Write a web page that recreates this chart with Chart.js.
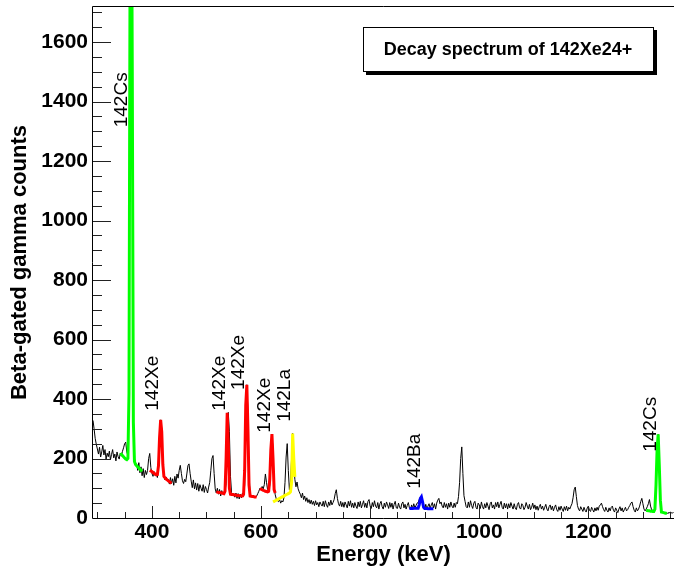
<!DOCTYPE html>
<html>
<head>
    <title>Decay spectrum of 142Xe24+</title>
    <style>
        html, body { margin: 0; padding: 0; background: #fff; overflow: hidden; }
        canvas { display: block; }
    </style>
</head>
<body>
    <canvas id="spectrum" width="674" height="569"></canvas>

    <script src="https://cdn.jsdelivr.net/npm/chart.js"></script>
    <script>
        // beta-gated gamma spectrum, 2 keV bins, first bin at 292 keV
        const binStart = 292;
        const binWidth = 2;
        const counts = [
            328, 300, 268, 248, 232, 215, 238, 205, 222, 244,   // 292
            212, 230, 198, 218, 206, 225, 196, 214, 230, 202,   // 312
            215, 192, 222, 206, 198, 218, 208, 224, 236, 250,   // 332
            255, 222, 210, 450, 1850, 2300, 1450, 340, 200, 185, // 352
            180, 160, 186, 152, 172, 142, 166, 136, 160, 146,   // 372
            160, 200, 217, 170, 150, 140, 156, 142, 150, 136,   // 392
            165, 260, 330, 300, 190, 140, 128, 138, 126, 130,   // 412
            114, 136, 116, 132, 110, 140, 118, 148, 134, 160,   // 432
            177, 150, 125, 116, 130, 122, 148, 176, 182, 150,   // 452
            124, 102, 128, 98, 118, 94, 116, 90, 112, 100,      // 472
            90, 112, 86, 106, 96, 84, 104, 120, 160, 200,       // 492
            210, 150, 98, 84, 100, 80, 96, 74, 92, 80,          // 512
            78, 90, 115, 250, 355, 290, 140, 85, 76, 82,        // 532
            70, 84, 66, 82, 64, 80, 68, 84, 72, 110,            // 552
            330, 448, 360, 150, 80, 72, 76, 68, 74, 70,         // 572
            74, 82, 90, 100, 94, 106, 98, 112, 148, 120,        // 592
            96, 88, 110, 200, 282, 230, 110, 78, 64, 58,        // 612
            55, 62, 50, 58, 54, 68, 120, 205, 250, 160,         // 632
            95, 120, 200, 284, 190, 130, 105, 121, 98, 88,      // 652
            80, 68, 84, 62, 74, 56, 68, 52, 62, 48,             // 672
            60, 46, 56, 42, 58, 44, 52, 38, 54, 46,             // 692
            40, 56, 38, 58, 44, 36, 54, 42, 60, 44,             // 712
            52, 62, 82, 95, 66, 48, 40, 56, 38, 52,             // 732
            36, 54, 44, 34, 56, 40, 58, 36, 50, 34,             // 752
            52, 40, 32, 54, 38, 56, 34, 46, 58, 36,             // 772
            50, 34, 56, 62, 40, 32, 52, 38, 58, 40,             // 792
            34, 52, 30, 48, 56, 38, 30, 50, 36, 54,             // 812
            44, 32, 52, 36, 50, 30, 46, 56, 34, 32,             // 832
            50, 36, 30, 48, 54, 34, 46, 30, 42, 52,             // 852
            34, 28, 44, 32, 48, 34, 42, 50, 52, 62,             // 872
            70, 66, 52, 38, 30, 46, 30, 40, 48, 32,             // 892
            44, 52, 34, 48, 30, 50, 60, 66, 48, 54,             // 912
            40, 34, 52, 36, 48, 30, 50, 36, 54, 40,             // 932
            34, 50, 36, 52, 48, 72, 120, 200, 239, 150,         // 952
            75, 56, 38, 34, 54, 36, 58, 42, 32, 50,             // 972
            56, 36, 30, 50, 44, 32, 54, 38, 30, 48,             // 992
            34, 52, 40, 28, 48, 54, 34, 44, 30, 52,             // 1012
            38, 54, 34, 46, 56, 36, 30, 50, 34, 48,             // 1032
            30, 48, 34, 52, 40, 30, 48, 34, 28, 46,             // 1052
            52, 34, 30, 48, 42, 28, 36, 52, 40, 30,             // 1072
            46, 28, 36, 50, 32, 44, 28, 40, 26, 38,             // 1092
            46, 30, 40, 26, 36, 46, 30, 24, 38, 44,             // 1112
            28, 40, 24, 36, 44, 28, 22, 38, 26, 40,             // 1132
            30, 22, 38, 26, 40, 24, 36, 30, 40, 48,             // 1152
            68, 95, 104, 72, 42, 30, 24, 38, 30, 22,            // 1172
            36, 26, 20, 34, 40, 26, 22, 36, 28, 20,             // 1192
            34, 24, 36, 26, 40, 44, 50, 38, 28, 22,             // 1212
            36, 26, 20, 34, 24, 36, 40, 26, 20, 34,             // 1232
            26, 18, 30, 38, 24, 34, 20, 28, 36, 24,             // 1252
            28, 36, 42, 50, 54, 38, 26, 20, 34, 24,             // 1272
            30, 40, 55, 66, 48, 30, 24, 30, 38, 48,             // 1292
            62, 40, 28, 26, 24, 30, 80, 200, 281, 170,          // 1312
            60, 22, 18, 20, 16, 18, 14, 18, 16, 20,             // 1332
            18, 16, 20                                          // 1352
        ];

        // peak fits (gauss + linear background), same 2 keV grid
        const fitStart = { cs362: 342, xe416: 396, xe538: 518, xe620: 598, la658: 622, ba894: 872, cs1328: 1306 };
        const fitCs362 = [218, 214, 210, 206, 202, 198, 196, 200, 420, 1900, 2400, 1500, 320, 190, 180, 176, 172, 168, 164, 160, 157];
        const fitXe416 = [160, 158, 156, 153, 150, 148, 145, 146, 175, 270, 330, 290, 180, 140, 135, 131, 128, 125, 122, 119, 117];
        const fitXe538 = [88, 87, 86, 86, 85, 84, 83, 82, 90, 200, 354, 250, 100, 80, 79, 79, 78, 77, 77, 76,
                          76, 75, 75, 74, 74, 80, 160, 380, 448, 300, 110, 74, 73, 72, 72, 71, 71, 70];
        const fitXe620 = [99, 97, 95, 93, 92, 90, 89, 88, 90, 130, 230, 282, 200, 95, 84];
        const fitLa658 = [54, 56, 58, 60, 62, 64, 66, 68, 70, 72, 74, 76, 78, 80, 82, 84, 88, 120, 284, 200, 138];
        const fitBa894 = [32, 32, 32, 32, 33, 33, 33, 33, 33, 45, 65, 71, 55, 36, 32, 32, 32, 31, 31, 31, 31, 31, 31];
        const fitCs1328 = [26, 25, 24, 24, 23, 23, 22, 22, 30, 110, 230, 281, 180, 60, 20, 19, 18, 17, 16, 15];

        // isotope labels (energy, counts where the label sits)
        const peakLabels = ['142Cs', '142Xe', '142Xe', '142Xe', '142Xe', '142La', '142Ba', '142Cs'];
        const labelEnergy = [344, 402, 525, 560, 606, 644, 881, 1315];
        const labelCounts = [1406, 453, 453, 523, 379, 412, 191, 315];

        const xTicks = [400, 600, 800, 1000, 1200];
        const yTicks = [0, 200, 400, 600, 800, 1000, 1200, 1400, 1600];

        const FONT = '"Liberation Sans", Arial, Helvetica, sans-serif';
        Chart.defaults.font.family = FONT;
        Chart.defaults.color = '#000';

        function toPoints(start, values) {
            return values.map((v, i) => ({ x: start + i * binWidth, y: v }));
        }

        function fitDataset(start, values, color) {
            return {
                data: toPoints(start, values),
                borderColor: color,
                borderWidth: 3,
                pointRadius: 0,
                tension: 0,
                fill: false,
                clip: 0,
                order: 1
            };
        }

        // inner ticks + frame, ROOT style
        const frameTicks = {
            id: 'frameTicks',
            afterDatasetsDraw(chart) {
                const { ctx, chartArea: a, scales: { x, y } } = chart;
                ctx.save();
                ctx.strokeStyle = '#222';
                ctx.lineWidth = 1;
                ctx.beginPath();
                for (let v = 0; v <= y.max; v += 50) {
                    const py = Math.round(y.getPixelForValue(v)) + 0.5;
                    const len = v % 200 === 0 ? 18 : 9;
                    ctx.moveTo(a.left, py);
                    ctx.lineTo(a.left + len, py);
                }
                for (let v = 300; v <= x.max; v += 50) {
                    const px = Math.round(x.getPixelForValue(v)) + 0.5;
                    const len = v % 200 === 0 ? 12 : 6;
                    ctx.moveTo(px, a.bottom);
                    ctx.lineTo(px, a.bottom - len);
                }
                ctx.stroke();

                ctx.strokeStyle = '#000';
                ctx.beginPath();
                ctx.moveTo(a.right, a.top - 0.5);
                ctx.lineTo(a.left - 0.5, a.top - 0.5);
                ctx.lineTo(a.left - 0.5, a.bottom + 0.5);
                ctx.lineTo(a.right, a.bottom + 0.5);
                ctx.stroke();
                ctx.restore();
            },
            afterDraw(chart) {
                const { ctx, scales: { x, y } } = chart;
                ctx.save();
                ctx.fillStyle = '#000';
                ctx.font = '19px ' + FONT;
                ctx.textAlign = 'center';
                ctx.textBaseline = 'middle';
                peakLabels.forEach((txt, i) => {
                    ctx.save();
                    ctx.translate(x.getPixelForValue(labelEnergy[i]), y.getPixelForValue(labelCounts[i]));
                    ctx.rotate(-Math.PI / 2);
                    ctx.fillText(txt, 0, 0);
                    ctx.restore();
                });

                // title box with drop shadow
                ctx.fillStyle = '#000';
                ctx.fillRect(366, 30, 291, 45);
                ctx.fillStyle = '#fff';
                ctx.fillRect(363, 27, 291, 45);
                ctx.strokeStyle = '#000';
                ctx.lineWidth = 1;
                ctx.strokeRect(363.5, 27.5, 290, 44);
                ctx.fillStyle = '#000';
                ctx.font = 'bold 18px ' + FONT;
                ctx.fillText('Decay spectrum of 142Xe24+', 508, 50);
                ctx.restore();
            }
        };

        new Chart(document.getElementById('spectrum'), {
            type: 'line',
            data: {
                datasets: [
                    fitDataset(fitStart.cs362, fitCs362, '#00ff00'),
                    fitDataset(fitStart.xe416, fitXe416, '#ff0000'),
                    fitDataset(fitStart.xe538, fitXe538, '#ff0000'),
                    fitDataset(fitStart.xe620, fitXe620, '#ff0000'),
                    fitDataset(fitStart.la658, fitLa658, '#ffff00'),
                    fitDataset(fitStart.ba894, fitBa894, '#0000ff'),
                    fitDataset(fitStart.cs1328, fitCs1328, '#00ff00'),
                    {
                        data: toPoints(binStart, counts),
                        borderColor: '#000',
                        borderWidth: 1,
                        pointRadius: 0,
                        tension: 0,
                        fill: false,
                        order: 2
                    }
                ]
            },
            options: {
                responsive: false,
                animation: false,
                layout: { padding: { top: 7, left: 0, right: 0, bottom: 0 } },
                plugins: { legend: { display: false }, tooltip: { enabled: false } },
                scales: {
                    x: {
                        type: 'linear',
                        min: 292,
                        max: 1357,
                        grid: { display: false, drawTicks: false },
                        border: { display: false },
                        afterBuildTicks: s => { s.ticks = xTicks.map(v => ({ value: v })); },
                        afterFit: s => { s.height = 51; s.paddingLeft = 0; s.paddingRight = 0; },
                        ticks: {
                            font: { size: 21, weight: 'bold' },
                            color: '#000',
                            padding: 2,
                            maxRotation: 0,
                            autoSkip: false,
                            callback: v => String(v)
                        },
                        title: {
                            display: true,
                            text: 'Energy (keV)',
                            font: { size: 22, weight: 'bold' },
                            color: '#000',
                            padding: { top: 0, bottom: 1 }
                        }
                    },
                    y: {
                        min: 0,
                        max: 1718,
                        grid: { display: false, drawTicks: false },
                        border: { display: false },
                        afterBuildTicks: s => { s.ticks = yTicks.map(v => ({ value: v })); },
                        afterFit: s => { s.width = 93; s.paddingTop = 0; s.paddingBottom = 0; },
                        ticks: {
                            font: { size: 21, weight: 'bold' },
                            color: '#000',
                            padding: 5,
                            autoSkip: false,
                            callback: v => String(v)
                        },
                        title: {
                            display: true,
                            text: 'Beta-gated gamma counts',
                            font: { size: 22, weight: 'bold' },
                            color: '#000',
                            padding: { top: 7, bottom: 0 }
                        }
                    }
                }
            },
            plugins: [frameTicks]
        });
    </script>
</body>
</html>
